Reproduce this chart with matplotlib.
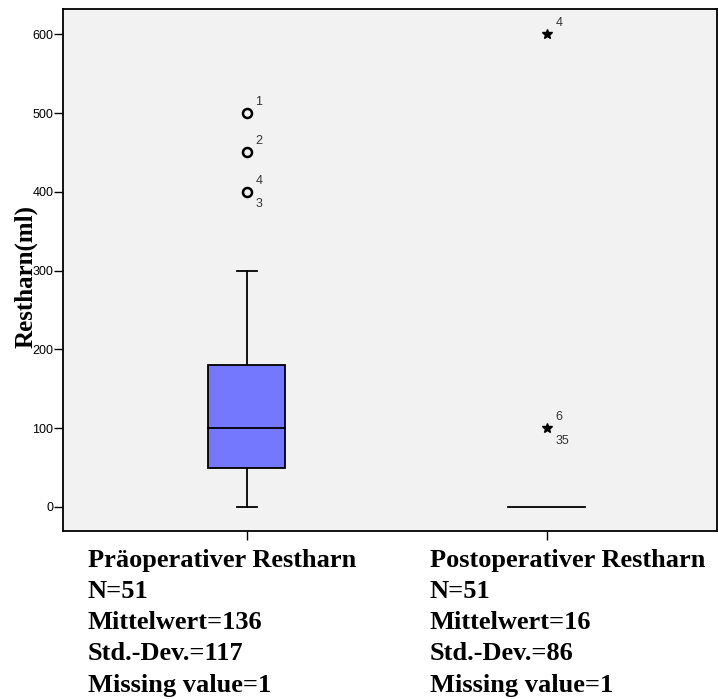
import matplotlib
matplotlib.use("Agg")
import matplotlib.pyplot as plt
from matplotlib.patches import Rectangle

# Data
groups = ["Präoperativer Restharn", "Postoperativer Restharn"]
positions = [1, 2]
whisker_low = [0, 0]
q1 = [50, 0]
median = [100, 0]
q3 = [180, 0]
whisker_high = [300, 0]
# outliers
out_group = [0, 0, 0, 1, 1]
out_value = [500, 450, 400, 600, 100]
out_kind = ["o", "o", "o", "*", "*"]
out_label_top = ["1", "2", "4", "4", "6"]
out_label_bottom = ["", "", "3", "", "35"]
stats_n = [51, 51]
stats_mean = [136, 16]
stats_sd = [117, 86]
stats_missing = [1, 1]
yticks = [0, 100, 200, 300, 400, 500, 600]

W, H = 718, 699
fig = plt.figure(figsize=(W / 100, H / 100), dpi=100)
ax = fig.add_axes([63 / W, 1 - 531 / H, (717 - 63) / W, (531 - 9) / H])
ax.set_facecolor("#f2f2f2")
fig.patch.set_facecolor("white")

box_w = 0.257
lw = 1.3
for i, p in enumerate(positions):
    if q3[i] > q1[i]:
        ax.add_patch(Rectangle((p - box_w / 2, q1[i]), box_w, q3[i] - q1[i],
                               facecolor="#7378ff", edgecolor="black", lw=lw, zorder=2))
    ax.plot([p - box_w / 2, p + box_w / 2], [median[i]] * 2, color="black", lw=lw, zorder=3)
    if whisker_high[i] > q3[i]:
        ax.plot([p, p], [q3[i], whisker_high[i]], color="black", lw=lw, zorder=1)
        ax.plot([p - box_w / 8, p + box_w / 8], [whisker_high[i]] * 2, color="black", lw=lw)
    if whisker_low[i] < q1[i]:
        ax.plot([p, p], [whisker_low[i], q1[i]], color="black", lw=lw, zorder=1)
        ax.plot([p - box_w / 8, p + box_w / 8], [whisker_low[i]] * 2, color="black", lw=lw)

for g, v, k, lt, lb in zip(out_group, out_value, out_kind, out_label_top, out_label_bottom):
    x = positions[g]
    if k == "o":
        ax.plot(x, v, marker="o", ms=6.5, mfc="none", mec="black", mew=1.8, zorder=4)
    else:
        ax.plot(x, v, marker="*", ms=7.5, color="black", zorder=4)
    ax.annotate(lt, (x, v), xytext=(6, 8), textcoords="offset points",
                fontsize=9, color="#333333", family="Liberation Sans", va="center", ha="left")
    if lb:
        ax.annotate(lb, (x, v), xytext=(6, -9), textcoords="offset points",
                    fontsize=9, color="#333333", family="Liberation Sans", va="center", ha="left")

ax.set_xlim(0.387, 2.567)
ax.set_ylim(-30.5, 632)
ax.set_yticks(yticks)
ax.set_yticklabels([str(t) for t in yticks], family="Liberation Sans", fontsize=9)
ax.set_xticks(positions)
ax.set_xticklabels([])
ax.tick_params(axis="y", direction="out", length=6.5, width=1, pad=0.5)
ax.tick_params(axis="x", direction="out", length=6.5, width=1)
for s in ax.spines.values():
    s.set_linewidth(1.3)

fig.text(26 / W, 1 - 277 / H, "Restharn(ml)", rotation=90, ha="center", va="center",
         family="Liberation Serif", fontweight="bold", fontsize=18)

xs = [88, 430]
for i in range(2):
    lines = [groups[i], f"N={stats_n[i]}", f"Mittelwert={stats_mean[i]}",
             f"Std.-Dev.={stats_sd[i]}", f"Missing value={stats_missing[i]}"]
    for j, t in enumerate(lines):
        fig.text(xs[i] / W, 1 - (560 + j * 31.3) / H, t, ha="left", va="center",
                 family="Liberation Serif", fontweight="bold", fontsize=19)

fig.savefig("out.png", dpi=100)
